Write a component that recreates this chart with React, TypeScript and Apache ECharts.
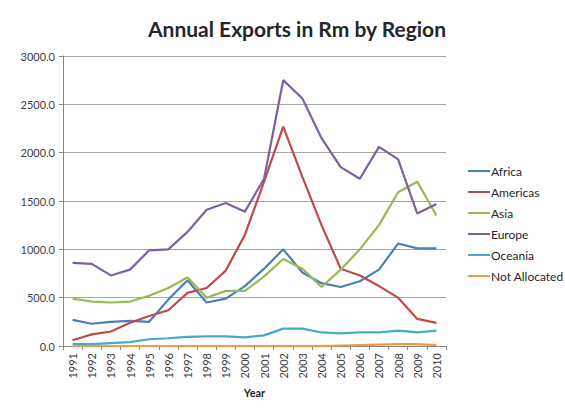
import React, { useEffect, useRef } from "react";
import * as echarts from "echarts";

const years = ["1991","1992","1993","1994","1995","1996","1997","1998","1999","2000","2001","2002","2003","2004","2005","2006","2007","2008","2009","2010"];
const africa = [270,230,250,260,250,480,680,450,490,620,800,1000,760,650,610,670,790,1060,1010,1010];
const americas = [60,120,150,240,310,370,550,600,780,1150,1700,2270,1750,1250,800,730,620,500,280,240];
const asia = [490,460,450,460,520,600,710,500,570,570,720,900,800,610,790,1000,1250,1590,1700,1350];
const europe = [860,850,730,790,990,1000,1180,1410,1480,1390,1730,2750,2560,2150,1850,1730,2060,1930,1370,1470];
const oceania = [20,20,30,40,70,80,95,100,100,90,110,180,180,140,130,140,140,160,140,160];
const notAllocated = [0,0,0,0,0,0,0,0,0,0,0,0,0,0,5,10,15,20,20,10];
const seriesNames = ["Africa","Americas","Asia","Europe","Oceania","Not Allocated"];
const seriesData = [africa, americas, asia, europe, oceania, notAllocated];
const colors = ["#4A7EBB","#BE4B48","#98B954","#7D60A0","#46AAC5","#F79646"];

const FONT = "Lato";

export default function App() {
  const ref = useRef<HTMLDivElement>(null);
  useEffect(() => {
    const chart = echarts.init(ref.current!, null, { renderer: "svg" });
    chart.setOption({
      animation: false,
      backgroundColor: "#ffffff",
      color: colors,
      title: {
        text: "Annual Exports in Rm by Region",
        left: 292,
        textAlign: "center",
        top: 13,
        textStyle: { fontFamily: FONT, fontSize: 21, fontWeight: "bold", color: "#262626" },
      },
      legend: {
        orient: "vertical",
        left: 463,
        top: 160,
        itemWidth: 22,
        itemHeight: 14,
        itemGap: 9,
        icon: "path://M0,6 L22,6 L22,8 L0,8 Z",
        textStyle: { fontFamily: FONT, fontSize: 12, color: "#262626", padding: [0, 0, 0, -4] },
        data: seriesNames,
      },
      grid: { left: 63, top: 56, right: 119, bottom: 69, containLabel: false },
      xAxis: {
        type: "category",
        data: years,
        boundaryGap: true,
        name: "Year",
        nameLocation: "middle",
        nameGap: 41,
        nameTextStyle: { fontFamily: FONT, fontSize: 11, fontWeight: "bold", color: "#262626" },
        axisLine: { lineStyle: { color: "#868686" } },
        axisTick: { show: true, alignWithLabel: false, length: 4, lineStyle: { color: "#868686" } },
        axisLabel: { rotate: 90, interval: 0, fontFamily: FONT, fontSize: 11, color: "#404040", margin: 7 },
      },
      yAxis: {
        type: "value",
        min: 0,
        max: 3000,
        interval: 500,
        axisLine: { show: true, lineStyle: { color: "#868686" } },
        axisTick: { show: true, length: 4, lineStyle: { color: "#868686" } },
        axisLabel: { formatter: (v: number) => v.toFixed(1), fontFamily: FONT, fontSize: 11, color: "#404040", margin: 8 },
        splitLine: { lineStyle: { color: "#a6a6a6" } },
      },
      series: seriesNames.map((n, i) => ({
        name: n,
        type: "line",
        data: seriesData[i],
        symbol: "none",
        lineStyle: { width: 2.2, color: colors[i] },
        itemStyle: { color: colors[i] },
      })),
    });
    return () => chart.dispose();
  }, []);
  return <div ref={ref} style={{ position: "absolute", left: 0, top: 0, width: 565, height: 415 }} />;
}
